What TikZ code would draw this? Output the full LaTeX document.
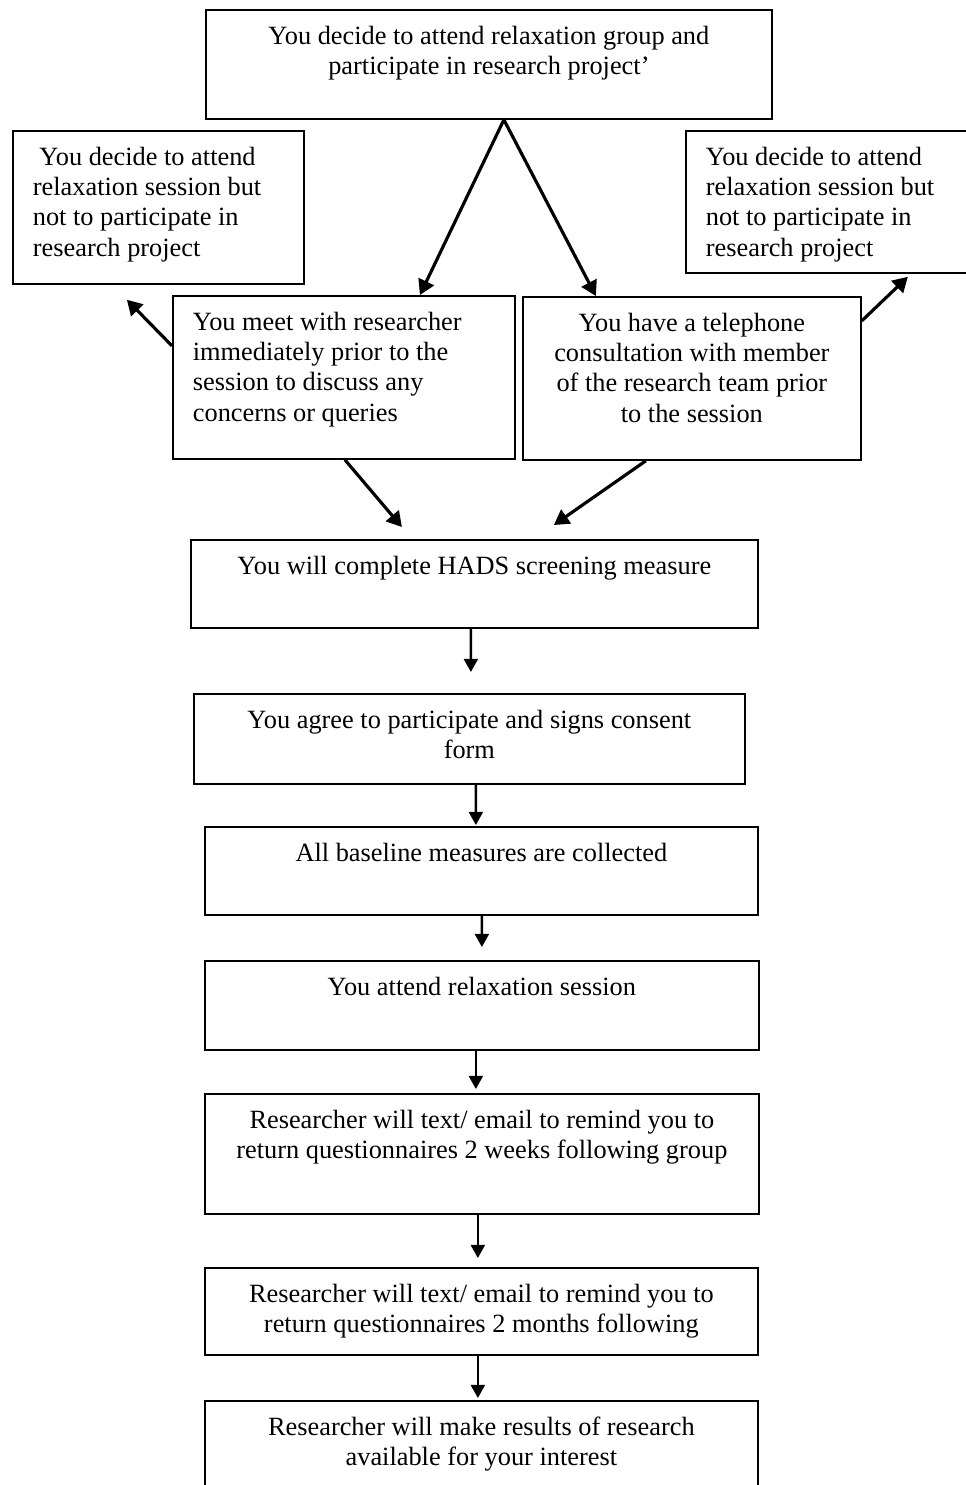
\documentclass[tikz,border=0pt]{standalone}
\usepackage{fontspec}
\setmainfont{Liberation Serif}
\usepackage{tikz}
\usetikzlibrary{arrows.meta}
\newdimen\px
\px=0.02cm
%% box contents: width, height (in px), alignment, text
\newcommand{\boxtext}[4]{\parbox[t][\dimexpr#2\px-26\px\relax][t]{\dimexpr#1\px-40\px\relax}{#3\strut#4}}
\tikzset{
%%%%%%%%%%  Node styles
box/.style={draw, line width=1pt, anchor=north west, inner xsep=20\px,
            inner ysep=13\px, font=\fontsize{15pt}{17.3pt}\selectfont},
%%%%%%%%%%  Arrow styles
flow/.style={line width=1.3pt, -{Triangle[length=7.5pt, width=8pt]}},
branch/.style={line width=1.8pt, -{Triangle[length=8.5pt, width=9.5pt]}}
}

\begin{document}
\begin{tikzpicture}[x=0.02cm, y=-0.02cm]
\useasboundingbox (0,0) rectangle (966,1485);
%%decision and the two ways in
\node[box] (decide) at (205,9) {\boxtext{566}{109}{\centering}{You decide to attend relaxation group and\\ participate in research project’}};
\node[box] (optout_l) at (12,130) {\boxtext{291}{153}{\raggedright}{\ You decide to attend\\ relaxation session but\\ not to participate in\\ research project}};
\node[box] (optout_r) at (685,130) {\boxtext{290}{142}{\raggedright}{You decide to attend\\ relaxation session but\\ not to participate in\\ research project}};
\node[box] (meet) at (172,295) {\boxtext{342}{163}{\raggedright}{You meet with researcher\\ immediately prior to the\\ session to discuss any\\ concerns or queries}};
\node[box] (phone) at (522,296) {\boxtext{338}{163}{\centering}{You have a telephone\\ consultation with member\\ of the research team prior\\ to the session}};
%%main column
\node[box] (hads) at (190,539) {\boxtext{567}{88}{\centering}{You will complete HADS screening measure}};
\node[box] (consent) at (193,693) {\boxtext{551}{90}{\centering}{You agree to participate and signs consent\\ form}};
\node[box] (baseline) at (204,826) {\boxtext{553}{88}{\centering}{All baseline measures are collected}};
\node[box] (attend) at (204,960) {\boxtext{554}{89}{\centering}{You attend relaxation session}};
\node[box] (remind_wk) at (204,1093) {\boxtext{554}{120}{\centering}{Researcher will text/ email to remind you to\\ return questionnaires 2 weeks following group}};
\node[box] (remind_mo) at (204,1267) {\boxtext{553}{87}{\centering}{Researcher will text/ email to remind you to\\ return questionnaires 2 months following}};
\node[box] (results) at (204,1400) {\boxtext{553}{110}{\centering}{Researcher will make results of research\\ available for your interest}};
%%branch arrows
\draw[branch] ([shift={(15,0)}]decide.south) -- ([shift={(76,0)}]meet.north);
\draw[branch] ([shift={(15,0)}]decide.south) -- ([shift={(-96,0)}]phone.north);
\draw[branch] ([shift={(0,-31.5)}]meet.west) -- ([shift={(-31.5,15)}]optout_l.south);
\draw[branch] ([shift={(0,-57.5)}]phone.east) -- ([shift={(77,3)}]optout_r.south);
\draw[branch] ([shift={(1,0)}]meet.south) -- ([shift={(-72.5,-12)}]hads.north);
\draw[branch] ([shift={(-46,0)}]phone.south) -- ([shift={(79.5,-14)}]hads.north);
%%down the column
\draw[flow] ([shift={(-3.5,0)}]hads.south) -- ([shift={(1.5,-21)}]consent.north);
\draw[flow] ([shift={(6.5,0)}]consent.south) -- ([shift={(-5.5,-1)}]baseline.north);
\draw[flow] ([shift={(0.5,0)}]baseline.south) -- ([shift={(0,-13)}]attend.north);
\draw[flow] ([shift={(-6,0)}]attend.south) -- ([shift={(-6,-4)}]remind_wk.north);
\draw[flow] ([shift={(-4,0)}]remind_wk.south) -- ([shift={(-3.5,-9)}]remind_mo.north);
\draw[flow] ([shift={(-3.5,0)}]remind_mo.south) -- ([shift={(-3.5,-2)}]results.north);
\end{tikzpicture}
\end{document}
